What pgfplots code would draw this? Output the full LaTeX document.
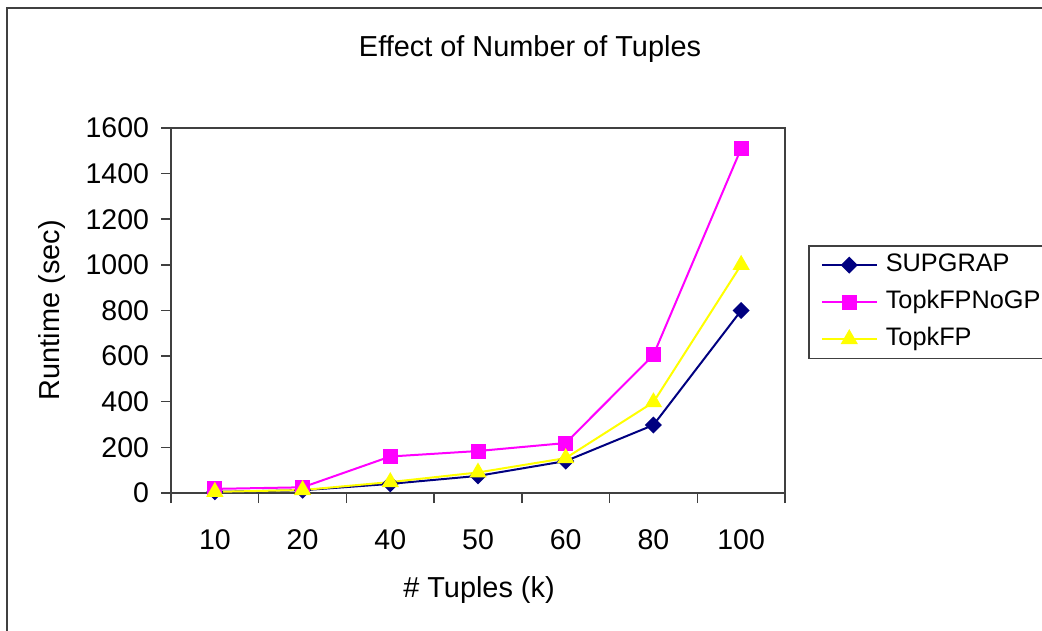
\documentclass[border=0pt]{standalone}
\usepackage{fontspec}
\setmainfont{Liberation Sans}
\usepackage{pgfplots}
\pgfplotsset{compat=1.18}
\definecolor{navyc}{RGB}{0,0,128}
\definecolor{magc}{RGB}{255,0,255}
\definecolor{yelc}{RGB}{255,255,0}
\definecolor{framec}{RGB}{64,64,64}
\begin{document}
\begin{tikzpicture}
\useasboundingbox (0,0) rectangle (521bp,315.5bp);
\draw[line width=1bp, framec] (3.5bp,-2bp) -- (3.5bp,311.5bp) -- (523bp,311.5bp);
\begin{axis}[
  at={(85.5bp,69bp)}, anchor=south west,
  scale only axis, width=307bp, height=182.5bp,
  xmin=-0.5, xmax=6.5, ymin=0, ymax=1600,
  xtick={0,...,6}, xticklabels={10,20,40,50,60,80,100},
  minor xtick={-0.5,0.5,...,6.5},
  ytick={0,200,...,1600},
  xtick pos=bottom, ytick pos=left,
  scaled y ticks=false,
  /pgf/number format/1000 sep={},
  /pgf/number format/assume math mode=true,
  tick align=outside,
  major x tick style={draw=none},
  major tick length=5bp, minor tick length=5bp,
  tick style={framec, line width=0.75bp},
  axis line style={framec, line width=1bp},
  tick label style={font=\fontsize{14.3}{16}\selectfont},
  xticklabel style={yshift=-10bp},
  yticklabel style={xshift=-2.5bp},
  title={Effect of Number of Tuples},
  title style={font=\fontsize{14.5}{17}\selectfont, at={(axis description cs:0.5847,1.184)}, anchor=center, yshift=0pt},
  xlabel={\# Tuples (k)},
  xlabel style={font=\fontsize{14.5}{17}\selectfont, at={(axis description cs:0.5016,-0.2658)}, anchor=center},
  ylabel={Runtime (sec)},
  ylabel style={font=\fontsize{14.5}{17}\selectfont, at={(axis description cs:-0.1938,0.501)}, anchor=center, rotate=0},
  legend cell align=left,
  legend style={at={(axis description cs:1.0375,0.679)}, anchor=north west,
    draw=framec, line width=0.75bp, inner xsep=1bp, inner ysep=3.5bp,
    font=\fontsize{12.7}{15}\selectfont,
    nodes={inner sep=0pt, text height=9.2bp, text depth=3bp},
    row sep=6.3bp},
  legend image code/.code={%
    \path (-5bp,0) (31.5bp,0);
    \draw[mark repeat=2,mark phase=2,#1] plot coordinates {(0bp,0bp) (13.75bp,0bp) (27.5bp,0bp)};},
]
\addplot[navyc, line width=1bp, mark=square*, mark size=2.5bp, mark options={rotate=45, solid, fill=navyc}]
  coordinates {(0,5) (1,12) (2,40) (3,75) (4,140) (5,298) (6,800)};
\addlegendentry{SUPGRAP}
\addplot[magc, line width=1bp, mark=square*, mark size=3.25bp, mark options={solid, fill=magc}]
  coordinates {(0,18) (1,25) (2,160) (3,184) (4,219) (5,605) (6,1510)};
\addlegendentry{TopkFPNoGP}
\addplot[yelc, line width=1bp, mark=triangle*, mark size=4bp, mark options={solid, fill=yelc}]
  coordinates {(0,5) (1,13) (2,48) (3,90) (4,153) (5,398) (6,1000)};
\addlegendentry{TopkFP}
\end{axis}
\end{tikzpicture}
\end{document}
